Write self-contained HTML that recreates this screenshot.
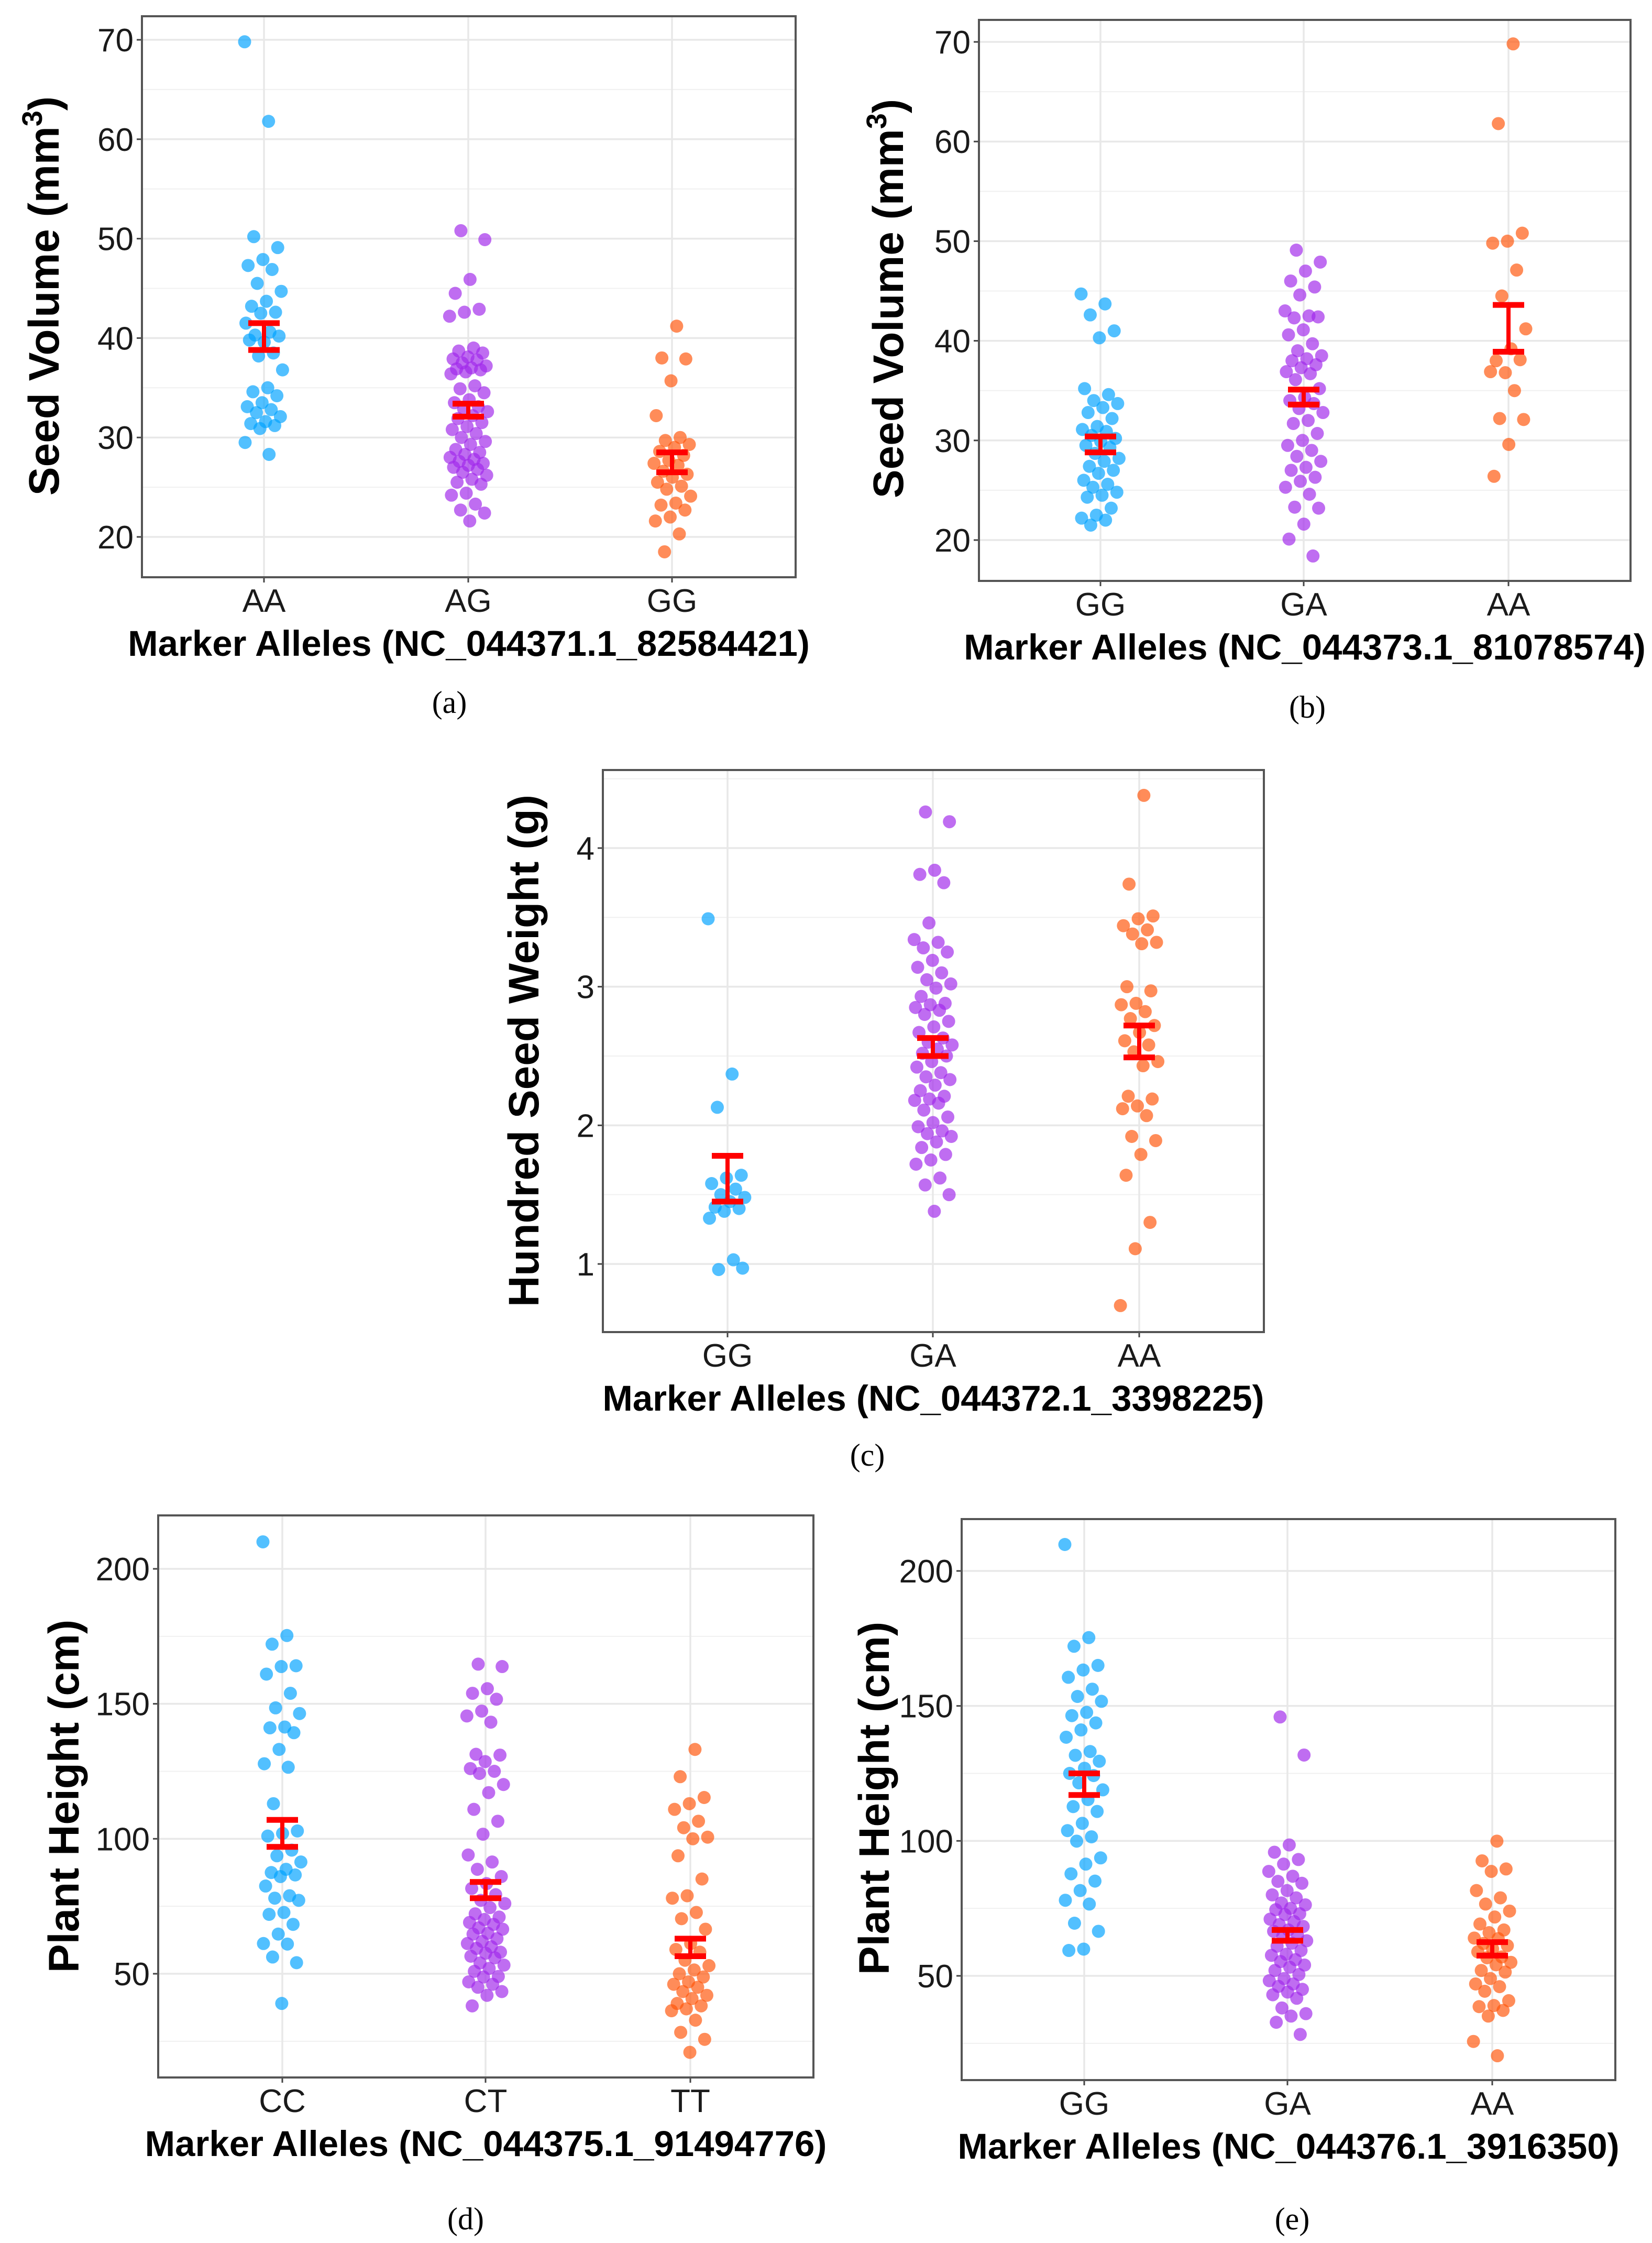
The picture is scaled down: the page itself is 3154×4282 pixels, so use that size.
<!DOCTYPE html>
<html><head><meta charset="utf-8"><style>
html,body{margin:0;padding:0;background:#fff;}
svg{display:block;}
text{font-family:"Liberation Sans",sans-serif;}
.cap{font-family:"Liberation Serif",serif;}
</style></head><body>
<svg id="fig" xmlns="http://www.w3.org/2000/svg" width="3154" height="4282" viewBox="0 0 3154 4282"></svg>
<script>
// ---------- data (a) ----------
const catsA = ["AA","AG","GG"];
const a_AA = [69.8,61.8,50.2,49.1,47.9,47.3,46.9,45.5,44.7,43.7,43.2,42.6,42.5,41.5,40.6,40.3,40.2,39.6,39.8,38.5,38.2,36.8,35,34.6,34.2,33.5,33.1,32.8,32.5,32.1,31.6,31.4,31.2,30.9,29.5,28.3];
const a_AG = [50.8,49.9,45.9,44.5,42.9,42.6,42.2,39,38.7,38.5,38.1,37.9,37.8,37.5,37.2,37,36.9,36.8,36.6,36.4,35.2,34.9,34.5,33.8,33.5,33.1,32.9,32.6,32.2,31.9,31.5,31.1,30.8,30.4,30,29.6,29.3,28.8,28.5,28.3,28,27.8,27.6,27.4,27.2,27,26.8,26.5,26.2,25.8,25.5,25.3,24.4,24.2,23.3,22.7,22.4,21.6];
const a_GG = [41.2,38,37.9,35.7,32.2,30,29.7,29.3,29,28.6,28.2,27.7,27.4,27.2,26.6,26.3,26,25.5,25.1,24.8,24.1,23.4,23.2,22.7,22,21.6,20.3,18.5];
const a_lo = [38.8,32.1,26.5];
const a_hi = [41.5,33.4,28.5];
const a_ticks = [20,30,40,50,60,70];
// ---------- data (b) ----------
const catsB = ["GG","GA","AA"];
const b_GG = [44.7,43.7,42.6,41,40.3,35.2,34.6,34,33.7,33.3,32.8,32.2,31.4,31.1,30.9,30.5,30.2,29.9,29.5,29.3,28.7,28.2,27.9,27.4,27,26.7,26,25.6,25.3,24.8,24.5,24.3,23.2,22.5,22.2,22,21.5];
const b_GA = [49.1,47.9,47,46,45.4,44.6,43,42.5,42.3,42.4,41.1,40.6,39.7,39,38.5,38.2,38,37.6,37.3,36.9,36.7,36.1,35.2,34.3,34,33.7,33.2,32.8,32,31.7,30.7,30,29.5,29,28.4,27.9,27.3,27,26.3,25.9,25.3,24.6,23.3,23.2,21.6,20.1,18.4];
const b_AA = [69.8,61.8,50.8,50,49.8,47.1,44.5,41.2,39.2,38,38.1,36.8,36.9,35,32.2,32.1,29.6,26.4];
const b_lo = [28.8,33.6,38.9];
const b_hi = [30.4,35.1,43.6];
const b_ticks = [20,30,40,50,60,70];
// ---------- data (c) ----------
const catsC = ["GG","GA","AA"];
const c_GG = [3.49,2.37,2.13,1.64,1.62,1.58,1.54,1.5,1.48,1.45,1.41,1.4,1.38,1.33,1.03,0.96,0.97];
const c_GA = [4.26,4.19,3.84,3.81,3.75,3.46,3.34,3.32,3.28,3.25,3.19,3.14,3.1,3.05,3.02,2.99,2.93,2.88,2.87,2.85,2.83,2.8,2.75,2.71,2.67,2.63,2.6,2.58,2.55,2.52,2.5,2.46,2.42,2.38,2.35,2.33,2.29,2.25,2.21,2.19,2.18,2.16,2.11,2.06,2.02,1.99,1.96,1.94,1.92,1.88,1.84,1.79,1.75,1.72,1.62,1.57,1.5,1.38];
const c_AA = [4.38,3.74,3.51,3.49,3.44,3.41,3.38,3.32,3.31,3,2.97,2.88,2.87,2.82,2.77,2.72,2.67,2.61,2.58,2.53,2.46,2.43,2.21,2.19,2.14,2.12,2.07,1.92,1.89,1.79,1.64,1.3,1.11,0.7];
const c_lo = [1.45,2.5,2.49];
const c_hi = [1.78,2.63,2.72];
const c_ticks = [1,2,3,4];
// ---------- data (d) ----------
const catsD = ["CC","CT","TT"];
const d_CC = [210,175.3,172.1,164.1,163.8,161,153.9,148.5,146.4,141.4,141.1,139.3,133.1,127.8,126.5,113,102.9,102,101,95.8,93.7,91.4,88.7,87.5,86.6,86,82.5,78.9,78,77.2,72.7,72,68.3,64.7,61.2,61,56.2,54.1,39];
const d_CT = [164.7,163.8,155.6,153.9,151.7,147.3,145.5,143.2,131.3,131,128.6,126,125,124.2,120.1,117.1,110.9,106.5,101.7,94,91.4,88.7,86,83.4,81.6,79.3,77.2,76,74.5,72.2,71,70.1,69,68.3,67,66.5,65,64.7,63,62,61.2,60,59.4,58,57.6,56.5,55.9,54,53.2,52,50.9,49,48.8,47,46.1,45,43.4,42,38.1];
const d_TT = [133.1,123,115.3,113,110.9,106.5,104.1,100.6,100,93.7,85.1,78.9,78,72.7,70.4,66.5,61.2,59,58,55,53,51.4,50,48.8,47,46.1,45,43.4,42,40.8,39,38.1,37,36.3,32.8,28.3,25.7,20.9];
const d_lo = [97,78,56.5];
const d_hi = [107,84,63];
const d_ticks = [50,100,150,200];
// ---------- data (e) ----------
const catsE = ["GG","GA","AA"];
const e_GG = [209.8,175.3,172.1,165,163.3,160.6,156.2,153.5,151.7,147.6,146.4,143.7,141.1,138.4,133.1,131.7,129.5,126.9,125,124.2,121.5,118.9,115.3,112.7,110.9,106.5,103.8,101.5,99.9,93.7,91.4,87.8,85.1,81.6,78,76.6,69.5,66.5,59.9,59.4];
const e_GA = [145.9,131.8,98.5,95.8,93.1,91.4,88.7,86.9,85,84.3,81.6,80,78.9,77,76.3,75,74.5,73,72.7,71,70.1,69,68.3,67,66.5,65,64.7,63,62.1,61,59.4,58,57.6,56,55.3,54,53.2,52,50.5,49,48.2,47,46.1,45,44,43,41.7,38.1,36,35.1,32.8,28.3];
const e_AA = [99.9,92.6,89.6,88.7,81.6,78.9,76.6,74,71.8,69.2,67,66,64,63.8,62,61.2,60,58.9,57,56.7,55,54.1,52,51.4,49,47,46,44.3,40.8,39,38.6,37.2,35.1,25.7,20.4];
const e_lo = [117,63,57.5];
const e_hi = [125,67,62.5];
const e_ticks = [50,100,150,200];

const NS = "http://www.w3.org/2000/svg";
const svg = document.getElementById("fig");
const COLORS = ["rgb(0,162,255)","rgb(160,40,235)","rgb(255,85,10)"];

function mk(tag, attrs, parent){
  const e = document.createElementNS(NS, tag);
  for (const k in attrs) e.setAttribute(k, attrs[k]);
  (parent||svg).appendChild(e);
  return e;
}

function panel(p){
  const g = mk("g", {});
  
  
  const yScale = v => p.y0px + (v - p.v0) * (p.y1px - p.y0px) / (p.v1 - p.v0);
  const xScale = i => p.cx[i];
  for (let k = 0; k < p.minor.length; k++){
    const y = yScale(p.minor[k]);
    const ln = mk("line", {x1:p.L, x2:p.R, y1:y, y2:y, stroke:"#f0f0f0", "stroke-width":2}, g);
    
    
  }
  for (let k = 0; k < p.ticks.length; k++){
    const y = yScale(p.ticks[k]);
    const ln = mk("line", {x1:p.L, x2:p.R, y1:y, y2:y, stroke:"#e8e8e8", "stroke-width":3.5}, g);
    
    
    const tk = mk("line", {x1:p.L-10, x2:p.L, y1:y, y2:y, stroke:"#444", "stroke-width":3}, g);
    
    
    const t = mk("text", {x:p.L-16, y:y+22, "font-size":62, "text-anchor":"end", fill:"#1a1a1a"}, g);
    t.textContent = p.ticks[k];
    
    
  }
  for (let i = 0; i < p.cats.length; i++){
    const x = xScale(i);
    const ln = mk("line", {x1:x, x2:x, y1:p.T, y2:p.B, stroke:"#e8e8e8", "stroke-width":3.5}, g);
    
    
    const tk = mk("line", {x1:x, x2:x, y1:p.B, y2:p.B+10, stroke:"#444", "stroke-width":3}, g);
    
    
    const t = mk("text", {x:x, y:p.B+66, "font-size":62, "text-anchor":"middle", fill:"#1a1a1a"}, g);
    t.textContent = p.cats[i];
    
    
  }
  for (let i = 0; i < p.series.length; i++){
    const vals = p.series[i];
    for (let j = 0; j < vals.length; j++){
      const jit = (((j * 0.618034 + i * 0.31) % 1) - 0.5) * 74;
      const c = mk("circle", {cx:xScale(i)+jit, cy:yScale(vals[j]), r:12.5, fill:COLORS[i], "fill-opacity":0.68}, g);
      
      
    }
  }
  for (let i = 0; i < p.cats.length; i++){
    const x = xScale(i), yl = yScale(p.lo[i]), yh = yScale(p.hi[i]);
    const eb = mk("g", {stroke:"#ff0000", "stroke-width":11, fill:"none"}, g);
    
    
    mk("line", {x1:x, x2:x, y1:yl, y2:yh, "stroke-width":8}, eb);
    mk("line", {x1:x-30, x2:x+30, y1:yl, y2:yl}, eb);
    mk("line", {x1:x-30, x2:x+30, y1:yh, y2:yh}, eb);
  }
  const fr = mk("rect", {x:p.L, y:p.T, width:p.R-p.L, height:p.B-p.T, fill:"none", stroke:"#555", "stroke-width":4}, g);
  
  
  const xt = mk("text", {x:(p.L+p.R)/2, y:p.B+150, "font-size":69, "font-weight":"bold", "text-anchor":"middle", fill:"#000"}, g);
  xt.textContent = p.xTitle;
  
  
  const yt = mk("text", {x:0, y:0, "font-size":82, "font-weight":"bold", "text-anchor":"middle", fill:"#000", transform:"translate(" + p.ytx + "," + p.yty + ") rotate(-90)"}, g);
  
  
  if (p.sup){
    yt.appendChild(document.createTextNode(p.yTitle));
    const s = document.createElementNS(NS, "tspan");
    s.setAttribute("dy", "-32"); s.setAttribute("font-size", "54");
    s.textContent = "3";
    yt.appendChild(s);
    const s2 = document.createElementNS(NS, "tspan");
    s2.setAttribute("dy", "32");
    s2.textContent = ")";
    yt.appendChild(s2);
  } else {
    yt.textContent = p.yTitle;
  }
  const cp = mk("text", {x:p.capx, y:p.capy+20, "font-size":60, "text-anchor":"middle", fill:"#000", "class":"cap"}, g);
  cp.textContent = "(" + p.id + ")";
  
  
}

panel({id:"a", cats:catsA, series:[a_AA,a_AG,a_GG], lo:a_lo, hi:a_hi, ticks:a_ticks, minor:[25,35,45,55,65],
  L:271, R:1519, T:31, B:1102, v0:20, v1:70, y0px:1025, y1px:76, cx:[504,894,1283],
  xTitle:"Marker Alleles (NC_044371.1_82584421)", yTitle:"Seed Volume (mm", sup:true, ytx:112, yty:565, capx:858, capy:1341});
panel({id:"b", cats:catsB, series:[b_GG,b_GA,b_AA], lo:b_lo, hi:b_hi, ticks:b_ticks, minor:[25,35,45,55,65],
  L:1869, R:3113, T:38, B:1109, v0:20, v1:70, y0px:1031, y1px:80, cx:[2101,2489,2880],
  xTitle:"Marker Alleles (NC_044373.1_81078574)", yTitle:"Seed Volume (mm", sup:true, ytx:1724, yty:570, capx:2496, capy:1350});
panel({id:"c", cats:catsC, series:[c_GG,c_GA,c_AA], lo:c_lo, hi:c_hi, ticks:c_ticks, minor:[1.5,2.5,3.5,4.5],
  L:1151, R:2413, T:1470, B:2543, v0:1, v1:4, y0px:2413, y1px:1619, cx:[1389,1781,2175],
  xTitle:"Marker Alleles (NC_044372.1_3398225)", yTitle:"Hundred Seed Weight (g)", sup:false, ytx:1028, yty:2006, capx:1656, capy:2778});
panel({id:"d", cats:catsD, series:[d_CC,d_CT,d_TT], lo:d_lo, hi:d_hi, ticks:d_ticks, minor:[25,75,125,175],
  L:302, R:1553, T:2893, B:3966, v0:50, v1:200, y0px:3768, y1px:2995, cx:[539,927,1318],
  xTitle:"Marker Alleles (NC_044375.1_91494776)", yTitle:"Plant Height (cm)", sup:false, ytx:150, yty:3429, capx:889, capy:4236});
panel({id:"e", cats:catsE, series:[e_GG,e_GA,e_AA], lo:e_lo, hi:e_hi, ticks:e_ticks, minor:[25,75,125,175],
  L:1836, R:3084, T:2900, B:3971, v0:50, v1:200, y0px:3772, y1px:2999, cx:[2070,2458,2849],
  xTitle:"Marker Alleles (NC_044376.1_3916350)", yTitle:"Plant Height (cm)", sup:false, ytx:1697, yty:3433, capx:2467, capy:4236});
</script>
</body></html>
